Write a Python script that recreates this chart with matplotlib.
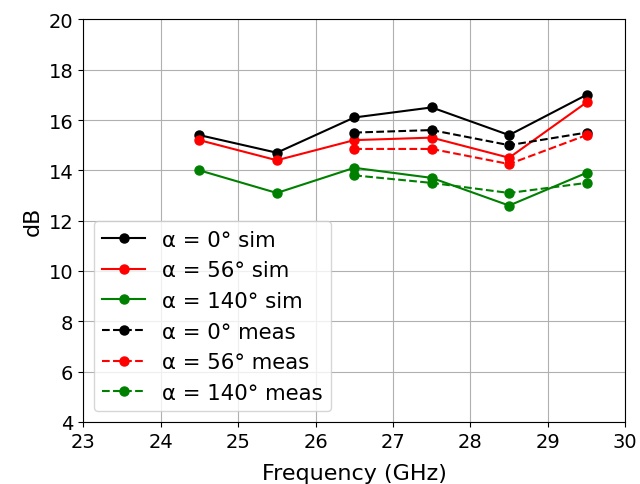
import matplotlib
matplotlib.use("Agg")
import matplotlib.pyplot as plt

freq_sim = [24.5, 25.5, 26.5, 27.5, 28.5, 29.5]
freq_meas = [26.5, 27.5, 28.5, 29.5]

sim_0 = [15.4, 14.7, 16.1, 16.5, 15.4, 17.0]
sim_56 = [15.2, 14.4, 15.2, 15.3, 14.5, 16.7]
sim_140 = [14.0, 13.1, 14.1, 13.7, 12.6, 13.9]
meas_0 = [15.5, 15.6, 15.0, 15.5]
meas_56 = [14.85, 14.85, 14.25, 15.4]
meas_140 = [13.8, 13.5, 13.1, 13.5]

labels = ["α = 0° sim", "α = 56° sim", "α = 140° sim",
          "α = 0° meas", "α = 56° meas", "α = 140° meas"]
colors = ["black", "red", "green"]

plt.rcParams['font.size'] = 14
fig = plt.figure(figsize=(6.4, 4.85), dpi=100)
ax = fig.add_axes([0.130, 0.128, 0.847, 0.830])

for vals, c, lab in zip([sim_0, sim_56, sim_140], colors, labels[:3]):
    ax.plot(freq_sim, vals, '-o', color=c, label=lab, lw=1.5, ms=6.5)
for vals, c, lab in zip([meas_0, meas_56, meas_140], colors, labels[3:]):
    ax.plot(freq_meas, vals, '--o', color=c, label=lab, lw=1.5, ms=6.5)

ax.set_xlim(23, 30)
ax.set_ylim(4, 20)
ax.set_xticks(range(23, 31))
ax.set_yticks(range(4, 21, 2))
ax.tick_params(labelsize=14)
ax.grid(True, color='#b0b0b0', lw=0.8)
ax.set_xlabel("Frequency (GHz)", fontsize=16, labelpad=9)
ax.set_ylabel("dB", fontsize=16)
ax.legend(loc='lower left', fontsize=15.3)

fig.savefig("out.png", dpi=100)
